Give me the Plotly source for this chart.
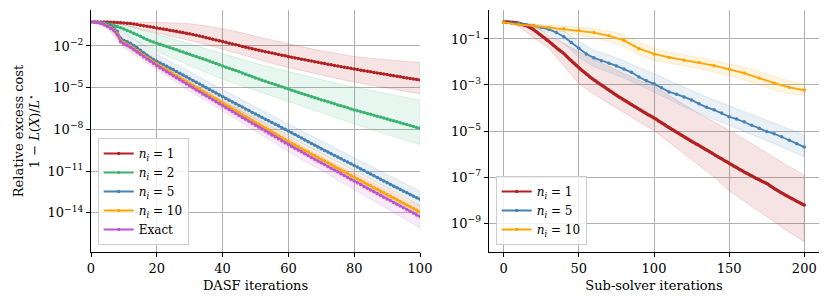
import plotly.graph_objects as go

# ---------------- data (log10 of relative excess cost) ----------------
# Left panel: DASF iterations 0..100
dasf_iter = list(range(101))
log_n1 = [-0.27,-0.27,-0.27,-0.27,-0.28,-0.28,-0.29,-0.30,-0.31,-0.32,-0.34,
          -0.36,-0.39,-0.42,-0.46,-0.50,-0.54,-0.58,-0.62,-0.66,-0.70,
          -0.74,-0.78,-0.82,-0.86,-0.90,-0.94,-0.99,-1.03,-1.08,-1.12,
          -1.18,-1.23,-1.29,-1.34,-1.40,-1.45,-1.51,-1.57,-1.62,-1.68,
          -1.74,-1.80,-1.86,-1.91,-1.97,-2.03,-2.09,-2.15,-2.20,-2.26,
          -2.31,-2.36,-2.41,-2.46,-2.51,-2.56,-2.61,-2.66,-2.71,-2.77,
          -2.81,-2.86,-2.91,-2.96,-3.00,-3.05,-3.09,-3.14,-3.18,-3.23,
          -3.27,-3.32,-3.36,-3.41,-3.45,-3.49,-3.53,-3.57,-3.61,-3.66,
          -3.70,-3.74,-3.78,-3.82,-3.86,-3.90,-3.94,-3.98,-4.02,-4.06,
          -4.10,-4.14,-4.18,-4.22,-4.26,-4.30,-4.34,-4.37,-4.41,-4.45]
log_n2 = [-0.27,-0.28,-0.30,-0.32,-0.36,-0.40,-0.46,-0.53,-0.60,-0.69,-0.78,
          -0.88,-0.98,-1.09,-1.19,-1.30,-1.42,-1.54,-1.65,-1.72,-1.80,
          -1.88,-1.96,-2.04,-2.12,-2.20,-2.28,-2.36,-2.44,-2.52,-2.60,
          -2.68,-2.76,-2.84,-2.92,-3.00,-3.09,-3.18,-3.27,-3.36,-3.45,
          -3.53,-3.61,-3.69,-3.77,-3.85,-3.94,-4.03,-4.12,-4.21,-4.30,
          -4.38,-4.46,-4.54,-4.62,-4.70,-4.78,-4.86,-4.94,-5.02,-5.10,
          -5.18,-5.26,-5.34,-5.42,-5.50,-5.57,-5.65,-5.73,-5.80,-5.88,
          -5.95,-6.02,-6.09,-6.16,-6.24,-6.31,-6.38,-6.45,-6.53,-6.60,
          -6.66,-6.73,-6.79,-6.86,-6.92,-6.99,-7.05,-7.12,-7.18,-7.25,
          -7.32,-7.39,-7.45,-7.52,-7.59,-7.66,-7.73,-7.79,-7.86,-7.93]
log_n5 = [-0.27,-0.28,-0.29,-0.30,-0.36,-0.45,-0.56,-0.70,-0.95,-1.45,-1.60,
          -1.70,-1.80,-1.96,-2.13,-2.30,-2.48,-2.66,-2.85,-2.98,-3.10,
          -3.22,-3.34,-3.46,-3.58,-3.70,-3.83,-3.96,-4.09,-4.22,-4.35,
          -4.48,-4.61,-4.74,-4.87,-5.00,-5.13,-5.26,-5.39,-5.52,-5.65,
          -5.78,-5.90,-6.03,-6.15,-6.28,-6.40,-6.53,-6.65,-6.78,-6.90,
          -7.02,-7.14,-7.27,-7.39,-7.51,-7.63,-7.75,-7.88,-8.00,-8.12,
          -8.25,-8.38,-8.50,-8.63,-8.76,-8.89,-9.02,-9.14,-9.27,-9.40,
          -9.52,-9.64,-9.76,-9.88,-10.00,-10.12,-10.24,-10.36,-10.48,-10.60,
          -10.72,-10.85,-10.97,-11.10,-11.22,-11.35,-11.47,-11.60,-11.72,-11.85,
          -11.97,-12.09,-12.21,-12.33,-12.45,-12.57,-12.69,-12.81,-12.93,-13.04]
log_n10 = [-0.27,-0.28,-0.30,-0.35,-0.44,-0.55,-0.69,-0.85,-1.10,-1.60,-1.75,
           -1.87,-2.00,-2.17,-2.33,-2.50,-2.67,-2.84,-3.00,-3.15,-3.30,
           -3.44,-3.58,-3.72,-3.86,-4.00,-4.14,-4.29,-4.43,-4.58,-4.72,
           -4.86,-5.00,-5.14,-5.28,-5.42,-5.56,-5.70,-5.84,-5.98,-6.12,
           -6.26,-6.40,-6.54,-6.67,-6.81,-6.95,-7.09,-7.23,-7.36,-7.50,
           -7.64,-7.78,-7.91,-8.05,-8.19,-8.32,-8.46,-8.60,-8.73,-8.87,
           -9.00,-9.13,-9.26,-9.39,-9.52,-9.64,-9.77,-9.90,-10.02,-10.15,
           -10.28,-10.41,-10.54,-10.67,-10.80,-10.93,-11.06,-11.19,-11.32,-11.45,
           -11.57,-11.70,-11.82,-11.95,-12.07,-12.20,-12.32,-12.45,-12.57,-12.70,
           -12.82,-12.95,-13.07,-13.20,-13.32,-13.45,-13.57,-13.70,-13.82,-13.95]
log_exact = [-0.27,-0.28,-0.31,-0.37,-0.47,-0.60,-0.74,-0.90,-1.20,-1.70,-1.85,
             -1.97,-2.10,-2.27,-2.43,-2.60,-2.77,-2.94,-3.10,-3.26,-3.42,
             -3.56,-3.71,-3.85,-4.00,-4.14,-4.29,-4.43,-4.58,-4.72,-4.87,
             -5.01,-5.16,-5.30,-5.45,-5.59,-5.73,-5.87,-6.01,-6.16,-6.30,
             -6.44,-6.58,-6.72,-6.86,-7.00,-7.14,-7.28,-7.42,-7.56,-7.70,
             -7.84,-7.98,-8.12,-8.26,-8.40,-8.54,-8.68,-8.82,-8.96,-9.10,
             -9.23,-9.36,-9.49,-9.62,-9.75,-9.88,-10.02,-10.15,-10.28,-10.41,
             -10.54,-10.67,-10.80,-10.93,-11.06,-11.20,-11.33,-11.46,-11.59,-11.72,
             -11.85,-11.98,-12.11,-12.24,-12.37,-12.49,-12.62,-12.75,-12.88,-13.01,
             -13.13,-13.26,-13.39,-13.52,-13.65,-13.77,-13.90,-14.03,-14.16,-14.28]

# Left panel bands (every 5 iterations)
band_iter = list(range(0, 101, 5))
n1_hi = [-0.27,-0.27,-0.27,-0.28,-0.30,-0.34,-0.40,-0.55,-0.75,-1.00,-1.30,-1.58,-1.85,-2.10,-2.35,-2.55,-2.75,-2.88,-3.00,-3.10,-3.20]
n1_lo = [-0.27,-0.35,-0.50,-0.80,-1.10,-1.35,-1.60,-1.90,-2.20,-2.55,-2.90,-3.25,-3.55,-3.85,-4.10,-4.35,-4.60,-4.85,-5.05,-5.25,-5.45]
n2_hi = [-0.27,-0.30,-0.45,-0.80,-1.20,-1.55,-1.90,-2.25,-2.60,-2.95,-3.25,-3.55,-3.85,-4.10,-4.40,-4.70,-4.95,-5.20,-5.45,-5.70,-5.90]
n2_lo = [-0.27,-0.55,-1.00,-1.80,-2.40,-2.90,-3.40,-3.90,-4.40,-4.80,-5.20,-5.60,-5.95,-6.40,-6.80,-7.20,-7.60,-8.00,-8.40,-8.75,-9.10]
n5_hi = [-0.27,-0.35,-1.10,-1.80,-2.60,-3.20,-3.85,-4.50,-5.15,-5.75,-6.40,-7.00,-7.62,-8.20,-8.85,-9.45,-10.05,-10.65,-11.25,-11.85,-12.45]
n5_lo = [-0.27,-0.55,-1.90,-2.60,-3.40,-4.05,-4.70,-5.35,-6.00,-6.65,-7.25,-7.85,-8.50,-9.10,-9.75,-10.35,-10.95,-11.55,-12.20,-12.80,-13.55]
n10_hi = [-0.27,-0.45,-1.50,-2.25,-3.00,-3.70,-4.40,-5.10,-5.80,-6.45,-7.10,-7.80,-8.45,-9.10,-9.75,-10.35,-11.00,-11.60,-12.25,-12.85,-13.45]
n10_lo = [-0.27,-0.65,-2.00,-2.75,-3.60,-4.30,-5.05,-5.75,-6.45,-7.15,-7.90,-8.60,-9.30,-9.95,-10.60,-11.25,-11.90,-12.55,-13.20,-13.80,-14.45]
ex_hi = [-0.27,-0.50,-1.60,-2.35,-3.10,-3.80,-4.55,-5.25,-5.95,-6.60,-7.25,-7.95,-8.65,-9.30,-9.95,-10.55,-11.20,-11.80,-12.40,-13.00,-13.60]
ex_lo = [-0.27,-0.75,-2.15,-2.90,-3.75,-4.50,-5.25,-6.00,-6.70,-7.40,-8.15,-8.85,-9.60,-10.30,-10.95,-11.65,-12.35,-13.00,-13.70,-14.40,-15.10]

# Right panel: sub-solver iterations
sub_iter_n1 = list(range(0, 201))
sub_iter_n5 = list(range(0, 201, 5))
sub_iter_n10 = list(range(0, 201, 10))
sub_log_n1 = [-0.26,-0.26,-0.26,-0.26,-0.27,-0.27,-0.27,-0.28,-0.29,-0.30,
              -0.32,-0.34,-0.36,-0.38,-0.40,-0.42,-0.45,-0.49,-0.52,-0.56,
              -0.60,-0.65,-0.70,-0.75,-0.80,-0.85,-0.90,-0.95,-1.00,-1.05,
              -1.10,-1.16,-1.21,-1.27,-1.32,-1.38,-1.43,-1.48,-1.53,-1.58,
              -1.63,-1.70,-1.76,-1.83,-1.89,-1.95,-2.01,-2.07,-2.13,-2.19,
              -2.25,-2.30,-2.36,-2.41,-2.47,-2.52,-2.57,-2.63,-2.68,-2.73,
              -2.78,-2.82,-2.87,-2.91,-2.96,-3.00,-3.04,-3.09,-3.13,-3.18,
              -3.22,-3.27,-3.31,-3.36,-3.40,-3.45,-3.49,-3.53,-3.57,-3.61,
              -3.65,-3.69,-3.73,-3.77,-3.81,-3.85,-3.89,-3.93,-3.97,-4.01,
              -4.05,-4.09,-4.13,-4.17,-4.21,-4.25,-4.29,-4.32,-4.36,-4.39,
              -4.43,-4.47,-4.51,-4.56,-4.60,-4.64,-4.68,-4.72,-4.77,-4.81,
              -4.85,-4.89,-4.93,-4.97,-5.01,-5.05,-5.09,-5.13,-5.17,-5.21,
              -5.25,-5.29,-5.33,-5.37,-5.41,-5.45,-5.49,-5.52,-5.56,-5.59,
              -5.63,-5.67,-5.71,-5.75,-5.79,-5.83,-5.86,-5.90,-5.94,-5.98,
              -6.02,-6.06,-6.10,-6.14,-6.17,-6.21,-6.25,-6.29,-6.33,-6.36,
              -6.40,-6.44,-6.48,-6.52,-6.55,-6.59,-6.63,-6.67,-6.71,-6.74,
              -6.78,-6.81,-6.85,-6.88,-6.92,-6.95,-6.99,-7.02,-7.06,-7.09,
              -7.12,-7.15,-7.19,-7.22,-7.25,-7.28,-7.32,-7.37,-7.41,-7.46,
              -7.50,-7.54,-7.58,-7.62,-7.66,-7.69,-7.73,-7.77,-7.81,-7.84,
              -7.88,-7.91,-7.95,-7.98,-8.02,-8.05,-8.09,-8.12,-8.15,-8.19,-8.22]
sub_log_n5 = [-0.28,-0.30,-0.33,-0.38,-0.43,-0.50,-0.58,-0.72,-0.90,-1.15,-1.40,
              -1.65,-1.82,-1.95,-2.05,-2.17,-2.30,-2.45,-2.65,-2.82,-2.95,
              -3.12,-3.30,-3.40,-3.52,-3.65,-3.82,-3.97,-4.08,-4.22,-4.38,
              -4.48,-4.60,-4.75,-4.88,-5.02,-5.12,-5.25,-5.40,-5.55,-5.70]
sub_log_n10 = [-0.28,-0.38,-0.43,-0.50,-0.55,-0.63,-0.72,-0.86,-1.06,-1.42,-1.65,
               -1.80,-1.92,-2.02,-2.16,-2.32,-2.48,-2.70,-2.92,-3.10,-3.22]

# Right panel bands (every 10 sub-solver iterations)
sub_band_iter = list(range(0, 201, 10))
s1_hi = [-0.26,-0.28,-0.40,-0.85,-1.20,-1.55,-1.90,-2.20,-2.50,-2.80,-3.05,-3.45,-3.85,-4.25,-4.60,-4.96,-5.35,-5.75,-6.15,-6.55,-6.91]
s1_lo = [-0.26,-0.45,-0.95,-1.40,-2.15,-2.95,-3.40,-3.80,-4.20,-4.60,-4.98,-5.50,-6.00,-6.50,-7.00,-7.60,-8.05,-8.50,-8.95,-9.40,-9.81]
s5_hi = [-0.27,-0.30,-0.35,-0.45,-0.65,-1.10,-1.50,-1.70,-1.95,-2.25,-2.50,-2.80,-3.10,-3.38,-3.65,-3.90,-4.15,-4.40,-4.65,-4.90,-5.17]
s5_lo = [-0.29,-0.38,-0.50,-0.75,-1.20,-1.80,-2.20,-2.45,-2.70,-3.00,-3.30,-3.62,-3.95,-4.22,-4.50,-4.75,-5.00,-5.28,-5.55,-5.82,-6.12]
s10_hi = [-0.26,-0.30,-0.33,-0.38,-0.42,-0.48,-0.55,-0.66,-0.81,-1.15,-1.40,-1.58,-1.70,-1.80,-1.93,-2.08,-2.22,-2.42,-2.63,-2.83,-2.96]
s10_lo = [-0.30,-0.42,-0.50,-0.60,-0.70,-0.84,-0.95,-1.10,-1.30,-1.70,-1.92,-2.05,-2.17,-2.28,-2.43,-2.60,-2.78,-3.00,-3.22,-3.38,-3.45]

left_ticks = [-2, -5, -8, -11, -14]
right_ticks = [-1, -3, -5, -7, -9]
x_left_ticks = [0, 20, 40, 60, 80, 100]
x_right_ticks = [0, 50, 100, 150, 200]

# ---------------- styling ----------------
RED = "#b22222"
GREEN = "#3cb371"
BLUE = "#4682b4"
ORANGE = "#ffa500"
PURPLE = "#ba55d3"
FONT = "DejaVu Serif"
FS = 13
LFS = 12


def rgba(hexc, a):
    h = hexc.lstrip("#")
    return f"rgba({int(h[0:2],16)},{int(h[2:4],16)},{int(h[4:6],16)},{a})"


def p10(v):
    return [10 ** t for t in v]


fig = go.Figure()


def add_band(x, hi, lo, color, xa, ya):
    fig.add_trace(go.Scatter(
        x=list(x) + list(x)[::-1], y=p10(hi) + p10(lo)[::-1],
        fill="toself", fillcolor=rgba(color, 0.12),
        line=dict(color=rgba(color, 0.18), width=0.8),
        mode="lines", hoverinfo="skip", showlegend=False,
        xaxis=xa, yaxis=ya))


def add_line(x, y, color, name, xa, ya, legend):
    fig.add_trace(go.Scatter(
        x=x, y=p10(y), name=name, mode="lines+markers",
        line=dict(color=color, width=1.8),
        marker=dict(color=color, size=3.5),
        xaxis=xa, yaxis=ya, legend=legend))


# Left panel
add_band(band_iter, n1_hi, n1_lo, RED, "x", "y")
add_band(band_iter, n2_hi, n2_lo, GREEN, "x", "y")
add_band(band_iter, n5_hi, n5_lo, BLUE, "x", "y")
add_band(band_iter, n10_hi, n10_lo, ORANGE, "x", "y")
add_band(band_iter, ex_hi, ex_lo, PURPLE, "x", "y")
ni = "<i>n</i><sub><i>i</i></sub>"
add_line(dasf_iter, log_n1, RED, f"{ni} = 1", "x", "y", "legend")
add_line(dasf_iter, log_n2, GREEN, f"{ni} = 2", "x", "y", "legend")
add_line(dasf_iter, log_n5, BLUE, f"{ni} = 5", "x", "y", "legend")
add_line(dasf_iter, log_n10, ORANGE, f"{ni} = 10", "x", "y", "legend")
add_line(dasf_iter, log_exact, PURPLE, "Exact", "x", "y", "legend")

# Right panel
add_band(sub_band_iter, s1_hi, s1_lo, RED, "x2", "y2")
add_band(sub_band_iter, s5_hi, s5_lo, BLUE, "x2", "y2")
add_band(sub_band_iter, s10_hi, s10_lo, ORANGE, "x2", "y2")
add_line(sub_iter_n1, sub_log_n1, RED, f"{ni} = 1", "x2", "y2", "legend2")
add_line(sub_iter_n5, sub_log_n5, BLUE, f"{ni} = 5", "x2", "y2", "legend2")
add_line(sub_iter_n10, sub_log_n10, ORANGE, f"{ni} = 10", "x2", "y2", "legend2")

W, H = 830, 305
ML, MR, MT, MB = 0, 0, 10, 53
pw = W - ML - MR
ph = H - MT - MB

axis_common = dict(
    showline=True, linecolor="black", linewidth=1.2, mirror=False,
    showgrid=True, gridcolor="#b0b0b0", gridwidth=1, automargin=False,
    ticks="outside", ticklen=4, tickcolor="black", tickwidth=1,
    zeroline=False, tickfont=dict(family=FONT, size=FS, color="black"),
)


def sup(e):
    return f"10<sup>\u2212{abs(e)}</sup>"


fig.update_layout(
    width=W, height=H,
    margin=dict(l=ML, r=MR, t=MT, b=MB),
    plot_bgcolor="white", paper_bgcolor="white",
    font=dict(family=FONT, size=FS, color="black"),
    xaxis=dict(axis_common, domain=[(91 - ML) / pw, (420 - ML) / pw], range=[0, 100],
               tickvals=x_left_ticks, anchor="y",
               title=dict(text="DASF iterations", standoff=6,
                          font=dict(family=FONT, size=FS))),
    yaxis=dict(axis_common, type="log", range=[-16.83, 0.59], anchor="x",
               tickvals=[10 ** e for e in left_ticks],
               ticktext=[sup(e) for e in left_ticks],
               title=dict(text="Relative excess cost<br>1 \u2212 <i>L</i>(<i>X</i>)/<i>L</i><sup>\u22c6</sup>",
                          standoff=4, font=dict(family=FONT, size=FS))),
    xaxis2=dict(axis_common, domain=[(488.7 - ML) / pw, (819.3 - ML) / pw], range=[-10, 210],
                tickvals=x_right_ticks, anchor="y2",
                title=dict(text="Sub-solver iterations", standoff=6,
                           font=dict(family=FONT, size=FS))),
    yaxis2=dict(axis_common, type="log", range=[-10.26, 0.26], anchor="x2",
                tickvals=[10 ** e for e in right_ticks],
                ticktext=[sup(e) for e in right_ticks]),
    legend=dict(x=(97.7 - ML) / pw, y=(252 - 245) / ph, xanchor="left", yanchor="bottom",
                bgcolor="rgba(255,255,255,0.8)", bordercolor="#cccccc", borderwidth=1,
                font=dict(family=FONT, size=LFS)),
    legend2=dict(x=(495.7 - ML) / pw, y=(252 - 245) / ph, xanchor="left", yanchor="bottom",
                 bgcolor="rgba(255,255,255,0.8)", bordercolor="#cccccc", borderwidth=1,
                 font=dict(family=FONT, size=LFS)),
    showlegend=True,
)

fig.write_html("out.html", config={"displayModeBar": False},
               post_script="document.body.style.margin='0';document.body.style.padding='0';")
